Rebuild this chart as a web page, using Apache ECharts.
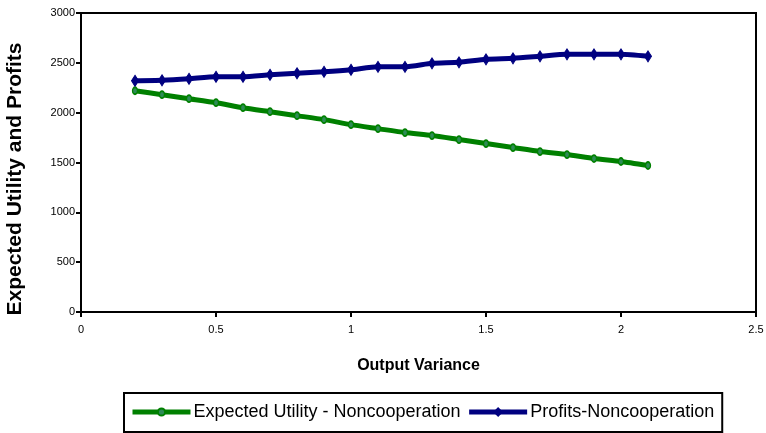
<!DOCTYPE html>
<html><head><meta charset="utf-8">
<script src="https://cdn.jsdelivr.net/npm/echarts@6/dist/echarts.min.js"></script>
<style>html,body{margin:0;padding:0;background:#fff}#c{width:766px;height:433px}</style>
</head><body><div id="c"></div>
<script>
var variance = [0.2,0.3,0.4,0.5,0.6,0.7,0.8,0.9,1.0,1.1,1.2,1.3,1.4,1.5,1.6,1.7,1.8,1.9,2.0,2.1];
var utilityNoncoop = [2220,2180,2140,2100,2050,2010,1970,1930,1880,1840,1800,1770,1730,1690,1650,1610,1580,1540,1510,1470];
var profitsNoncoop = [2320,2325,2340,2360,2360,2380,2395,2410,2430,2460,2460,2495,2505,2535,2545,2565,2585,2585,2585,2565];
var xTicks = [0,0.5,1,1.5,2,2.5];
var yTicks = [0,500,1000,1500,2000,2500,3000];
var yTitle = 'Expected Utility and Profits';
var xTitle = 'Output Variance';

function pairs(xs, ys){ return xs.map(function(x,i){return [x, ys[i]];}); }

var chart = echarts.init(document.getElementById('c'), null, {renderer:'canvas'});
chart.setOption({
  animation:false,
  backgroundColor:'#fff',
  grid:{left:81, top:13, right:10, bottom:121, outerBoundsMode:'none', containLabel:false,
    show:true, borderColor:'#000', borderWidth:2, backgroundColor:'transparent'},
  graphic:[{type:'text', x:15, y:179, rotation:Math.PI/2,
    style:{text:yTitle, font:'bold 21px "Liberation Sans"', fill:'#000', align:'center', verticalAlign:'middle'}}],
  xAxis:{type:'value', min:0, max:2.5, interval:0.5,
    name:xTitle, nameLocation:'middle', nameGap:46,
    nameTextStyle:{fontFamily:'Liberation Sans', fontWeight:'bold', fontSize:16, color:'#000'},
    axisLine:{show:true, onZero:false, lineStyle:{color:'#000', width:2}},
    axisTick:{show:true, inside:false, length:5, lineStyle:{color:'#000', width:2}},
    axisLabel:{fontFamily:'Liberation Sans', fontSize:11, color:'#000', margin:12,
      formatter:function(v){return String(v);}},
    splitLine:{show:false}},
  yAxis:{type:'value', min:0, max:3000, interval:500,
    axisLine:{show:true, lineStyle:{color:'#000', width:2}},
    axisTick:{show:true, inside:false, length:5, lineStyle:{color:'#000', width:2}},
    axisLabel:{fontFamily:'Liberation Sans', fontSize:11, color:'#000', margin:6,
      formatter:function(v){return String(v);}},
    splitLine:{show:false}},
  legend:{top:393, left:124, orient:'horizontal',
    borderColor:'#000', borderWidth:2, padding:[10,8,11,6], itemGap:6,
    itemWidth:58, itemHeight:9,
    lineStyle:{width:5},
    textStyle:{fontFamily:'Liberation Sans', fontSize:18, color:'#000', padding:[0,0,0,-2]},
    data:['Expected Utility - Noncooperation','Profits-Noncooperation']},
  series:[
    {name:'Expected Utility - Noncooperation', type:'line', data:pairs(variance, utilityNoncoop),
      smooth:0.2, symbol:'circle', symbolSize:[5,7], showSymbol:true,
      lineStyle:{color:'#008000', width:5},
      itemStyle:{color:'#2e8b57', borderColor:'#008000', borderWidth:1.5}},
    {name:'Profits-Noncooperation', type:'line', data:pairs(variance, profitsNoncoop),
      smooth:0.2, symbol:'diamond', symbolSize:[7,11], showSymbol:true,
      lineStyle:{color:'#000080', width:5},
      itemStyle:{color:'#000080', borderColor:'#000080', borderWidth:1}}
  ]
});
</script></body></html>
